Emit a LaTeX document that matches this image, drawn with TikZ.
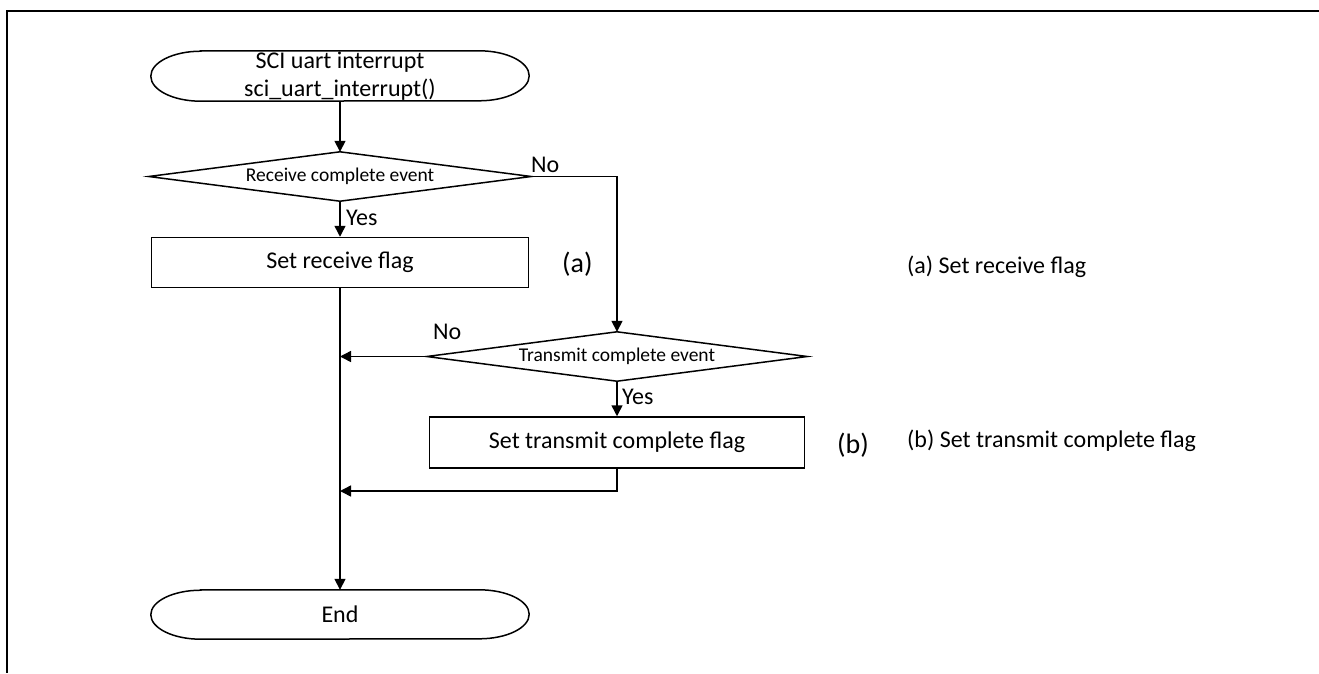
\documentclass[tikz,border=0pt]{standalone}
\usepackage{fontspec}
\setmainfont{Carlito}
\usetikzlibrary{arrows.meta}
\begin{document}
\begin{tikzpicture}[x=1pt,y=1pt,
  shapeline/.style={line width=1.5pt, line join=miter},
  arr/.style={line width=1.5pt, -{Triangle[length=11pt,width=11pt]}},
  lbl/.style={font=\fontsize{24}{28}\selectfont, inner sep=0pt},
  smalltxt/.style={font=\fontsize{19.5}{22}\selectfont, inner sep=0pt},
  bigtxt/.style={font=\fontsize{28}{32}\selectfont, inner sep=0pt},
  boxnode/.style={draw, line width=1.5pt, minimum width=377pt, minimum height=50pt, inner sep=0pt, font=\fontsize{24}{28}\selectfont},
  termnode/.style={inner sep=0pt, minimum width=378pt, minimum height=50pt, align=center, font=\fontsize{24}{28}\selectfont},
  framestyle/.style={line width=2pt}]
\useasboundingbox (0,0) rectangle (1319,-673);
\draw[framestyle] (1319,-11) -- (7,-11) -- (7,-673);

% start terminal
\node[termnode] (start) at (340,-76) {SCI uart interrupt\\sci\_uart\_interrupt()};
\draw[shapeline] ([xshift=50pt]start.north west) -- ([xshift=-50pt]start.north east)
  arc[start angle=90,end angle=-90,x radius=50pt,y radius=25pt]
  -- ([xshift=50pt]start.south west)
  arc[start angle=270,end angle=90,x radius=50pt,y radius=25pt] -- cycle;

% decision 1
\node[smalltxt, minimum width=382pt, minimum height=49pt] (d1) at (340,-176.5) {Receive complete event};
\draw[shapeline] (d1.west) -- (d1.north) -- (d1.east) -- (d1.south) -- cycle;

% box 1
\node[boxnode] (box1) at (340,-262.5) {Set receive flag};

% decision 2
\node[smalltxt, minimum width=380pt, minimum height=49pt] (d2) at (617,-356.5) {Transmit complete event};
\draw[shapeline] (d2.west) -- (d2.north) -- (d2.east) -- (d2.south) -- cycle;

% box 2
\node[boxnode, minimum width=375pt, minimum height=51pt] (box2) at (617,-442.5) {Set transmit complete flag};

% end terminal
\node[termnode, minimum height=49pt] (end) at (340,-614.5) {End};
\draw[shapeline] ([xshift=50pt]end.north west) -- ([xshift=-50pt]end.north east)
  arc[start angle=90,end angle=-90,x radius=50pt,y radius=24.5pt]
  -- ([xshift=50pt]end.south west)
  arc[start angle=270,end angle=90,x radius=50pt,y radius=24.5pt] -- cycle;

% connectors
\coordinate (m1) at (340,-356.5);
\coordinate (m2) at (340,-491);
\draw[arr] (start.south) -- (d1.north);
\draw[arr] (d1.south) -- (box1.north);
\draw[arr] (d1.east) -| (d2.north);
\draw[arr] (d2.west) -- (m1);
\draw[arr] (d2.south) -- (box2.north);
\draw[arr] (box2.south) |- (m2);
\draw[arr] (box1.south) -- (end.north);

% labels
\node[lbl, anchor=base west] (no1) at (531,-172) {No};
\node[lbl, anchor=base west] (yes1) at (346,-225) {Yes};
\node[lbl, anchor=base west] (no2) at (433,-339) {No};
\node[lbl, anchor=base west] (yes2) at (622,-404) {Yes};
\node[bigtxt, anchor=base west] (la) at (562,-272) {(a)};
\node[bigtxt, anchor=base west] (lb) at (837,-453) {(b)};
\node[lbl, anchor=base west] (ta) at (907,-273) {(a) Set receive flag};
\node[lbl, anchor=base west] (tb) at (907,-447) {(b) Set transmit complete flag};
\end{tikzpicture}
\end{document}
